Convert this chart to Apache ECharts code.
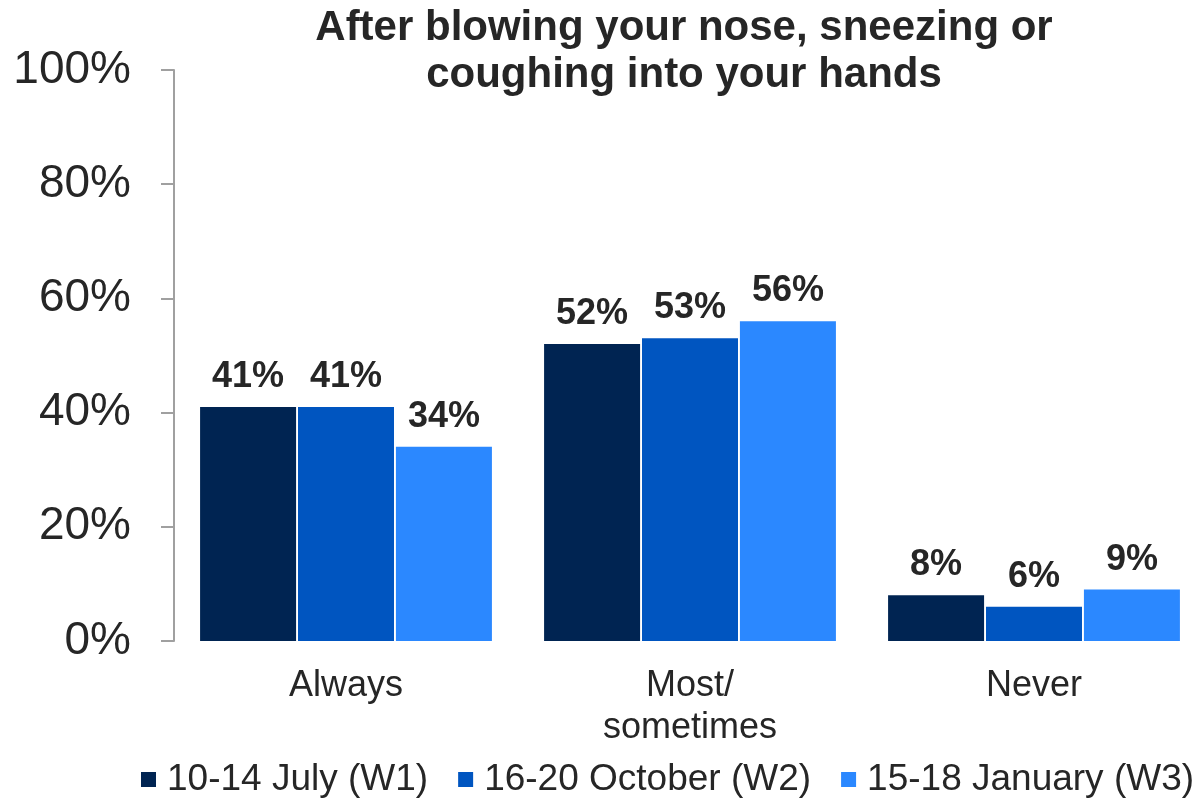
<!DOCTYPE html>
<html>
<head>
<meta charset="utf-8">
<script src="https://cdn.jsdelivr.net/npm/echarts@6/dist/echarts.min.js"></script>
<style>
  html, body { margin: 0; padding: 0; background: #fff; }
  #chart { width: 1196px; height: 805px; }
</style>
</head>
<body>
<div id="chart"></div>
<script>
// chart data
const categories = ['Always', 'Most/\nsometimes', 'Never']
const seriesNames = ['10-14 July (W1)', '16-20 October (W2)', '15-18 January (W3)']
const w1 = [41, 52, 8]
const w2 = [41, 53, 6]
const w3 = [34, 56, 9]
const yTicks = [0, 20, 40, 60, 80, 100]

const colors = ['#002452', '#0055C0', '#2B88FF']
const font = '"Liberation Sans", Arial, sans-serif'

const chart = echarts.init(document.getElementById('chart'))

function barSeries(name, data, color) {
  return {
    name: name,
    type: 'bar',
    data: data,
    barWidth: 96,
    barGap: '2%',
    itemStyle: { color: color },
    label: {
      show: true,
      position: 'top',
      distance: 12,
      formatter: '{c}%',
      fontFamily: font,
      fontSize: 36,
      fontWeight: 'bold',
      color: '#262626'
    }
  }
}

chart.setOption({
  animation: false,
  textStyle: { fontFamily: font },
  title: {
    text: 'After blowing your nose, sneezing or\ncoughing into your hands',
    left: 679,
    top: 0,
    textAlign: 'center',
    textStyle: {
      fontFamily: font,
      fontSize: 42,
      fontWeight: 'bold',
      color: '#262626',
      lineHeight: 47
    }
  },
  legend: {
    bottom: 2,
    left: 136,
    width: 1200,
    itemWidth: 15,
    itemHeight: 15,
    itemGap: 30,
    icon: 'rect',
    textStyle: { fontFamily: font, fontSize: 37, color: '#262626', padding: [0, 0, 0, 6] },
    data: seriesNames
  },
  grid: {
    left: 174,
    top: 70,
    width: 1032,
    bottom: 164,
    containLabel: false,
    outerBoundsMode: 'none'
  },
  xAxis: {
    type: 'category',
    data: categories,
    axisLine: { show: false },
    axisTick: { show: false },
    axisLabel: {
      fontFamily: font,
      fontSize: 36,
      color: '#262626',
      lineHeight: 42,
      margin: 24
    }
  },
  yAxis: {
    type: 'value',
    min: yTicks[0],
    max: yTicks[yTicks.length - 1],
    interval: 20,
    axisLine: { show: true, lineStyle: { color: '#A0A0A0', width: 2 } },
    axisTick: { show: true, length: 13, lineStyle: { color: '#A0A0A0', width: 2 } },
    splitLine: { show: false },
    axisLabel: {
      formatter: '{value}%',
      fontFamily: font,
      fontSize: 46,
      color: '#262626',
      margin: 43
    }
  },
  series: [
    barSeries(seriesNames[0], w1, colors[0]),
    barSeries(seriesNames[1], w2, colors[1]),
    barSeries(seriesNames[2], w3, colors[2])
  ]
})
</script>
</body>
</html>
